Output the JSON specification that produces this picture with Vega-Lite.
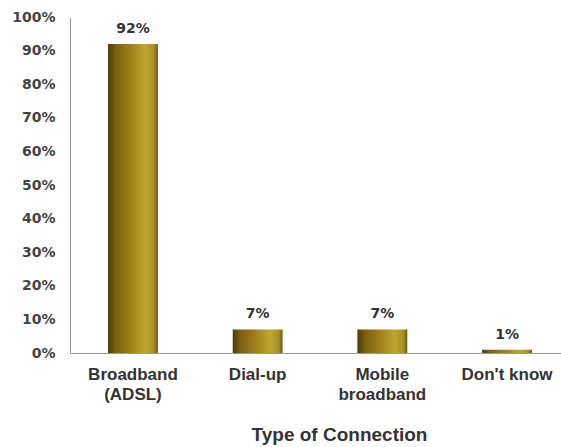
{
  "$schema": "https://vega.github.io/schema/vega-lite/v6.json",
  "autosize": "none",
  "width": 500,
  "height": 336,
  "padding": {"left": 70, "top": 17, "right": 0, "bottom": 94},
  "background": "white",
  "config": {"view": {"stroke": null}, "font": "Liberation Sans"},
  "data": {"values": [
    {"type": "Broadband (ADSL)", "pct": 92, "label": "92%"},
    {"type": "Dial-up", "pct": 7, "label": "7%"},
    {"type": "Mobile broadband", "pct": 7, "label": "7%"},
    {"type": "Don't know", "pct": 1, "label": "1%"}
  ]},
  "encoding": {
    "x": {"field": "type", "type": "nominal", "sort": null,
      "scale": {"paddingInner": 0.6, "paddingOuter": 0.305},
      "axis": {"title": "Type of Connection", "labelAngle": 0, "ticks": false,
        "domainColor": "#999999", "labelFont": "Liberation Sans", "labelFontWeight": "bold",
        "labelFontSize": 17, "labelColor": "#333333", "labelPadding": 13, "labelLineHeight": 20,
        "labelExpr": "datum.value == 'Broadband (ADSL)' ? ['Broadband','(ADSL)'] : datum.value == 'Mobile broadband' ? ['Mobile','broadband'] : datum.value",
        "titleFont": "Liberation Sans", "titleFontSize": 19, "titleFontWeight": "bold",
        "titleColor": "#333333", "titleX": 269, "titleY": 87, "titleBaseline": "alphabetic", "titleAlign": "center"}},
    "y": {"field": "pct", "type": "quantitative",
      "scale": {"domain": [0, 100]},
      "axis": {"title": null, "values": [0,10,20,30,40,50,60,70,80,90,100], "grid": false, "ticks": false,
        "domainColor": "#999999", "labelExpr": "datum.value + '%'", "labelFont": "DejaVu Sans",
        "labelFontWeight": "bold", "labelFontSize": 14, "labelColor": "#444444", "labelPadding": 15}}
  },
  "layer": [
    {"mark": {"type": "bar", "color": {"gradient": "linear", "x1": 0, "x2": 1, "y1": 0, "y2": 0,
      "stops": [
        {"offset": 0, "color": "#4a3c08"},
        {"offset": 0.15, "color": "#7a6010"},
        {"offset": 0.45, "color": "#a07e1c"},
        {"offset": 0.75, "color": "#c0a630"},
        {"offset": 0.92, "color": "#a89028"},
        {"offset": 1, "color": "#6a5810"}
      ]}}},
    {"mark": {"type": "text", "baseline": "alphabetic", "dy": -11, "font": "DejaVu Sans",
      "fontWeight": "bold", "fontSize": 14, "color": "#333333"},
      "encoding": {"text": {"field": "label"}}}
  ]
}
